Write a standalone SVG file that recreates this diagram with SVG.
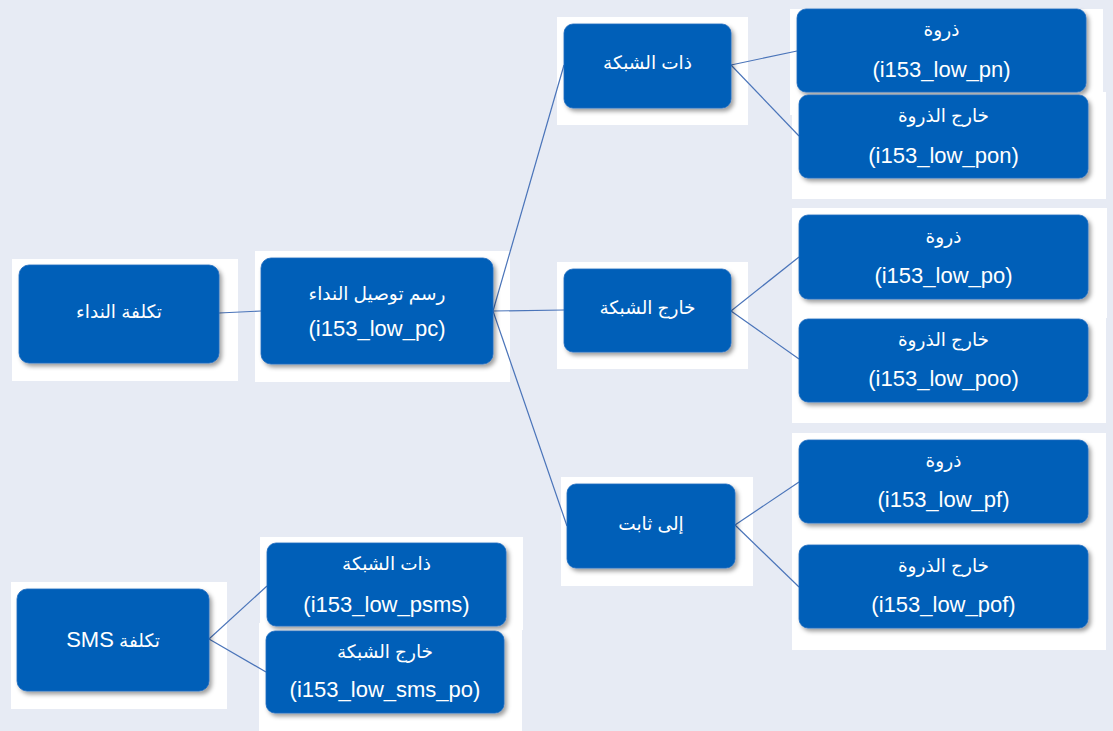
<svg xmlns="http://www.w3.org/2000/svg" width="1113" height="731" viewBox="0 0 1113 731">
<defs>
<filter id="sh" x="-10%" y="-10%" width="125%" height="135%">
<feDropShadow dx="2.5" dy="3" stdDeviation="2" flood-color="#000" flood-opacity="0.38"/>
</filter>
<style>
.bg{fill:#E7EBF4}
.wb{fill:#FFFFFF}
.nd{fill:#005EB8;stroke:#1F6CC0;stroke-width:0.8;filter:url(#sh)}
.ar{font-family:"Liberation Sans","DejaVu Sans",sans-serif;font-size:18.5px;fill:#FFFFFF;text-anchor:middle}
.la{font-family:"Liberation Sans","DejaVu Sans",sans-serif;font-size:22px;fill:#FFFFFF;text-anchor:middle}
.cn line{stroke:#4A74B9;stroke-width:1.2;fill:none}
</style>
</defs>
<rect class="bg" x="0" y="0" width="1113" height="731"/>
<g id="backings">
<rect class="wb" x="12" y="259" width="226" height="122"/>
<rect class="wb" x="255" y="251" width="255" height="131"/>
<rect class="wb" x="557" y="17" width="191" height="108"/>
<rect class="wb" x="790" y="9" width="313" height="106"/>
<rect class="wb" x="792" y="92" width="314" height="107"/>
<rect class="wb" x="557" y="262" width="191" height="107"/>
<rect class="wb" x="792" y="208" width="315" height="110"/>
<rect class="wb" x="792" y="312" width="314" height="111"/>
<rect class="wb" x="561" y="477" width="192" height="109"/>
<rect class="wb" x="792" y="433" width="314" height="108"/>
<rect class="wb" x="792" y="537" width="314" height="113"/>
<rect class="wb" x="11" y="582" width="216" height="127"/>
<rect class="wb" x="260" y="537" width="263" height="93"/>
<rect class="wb" x="259" y="623" width="263" height="108"/>
</g>
<g id="connectors" class="cn">
<line x1="219" y1="313" x2="261" y2="311"/>
<line x1="493" y1="311" x2="564" y2="65"/>
<line x1="493" y1="311" x2="564" y2="310"/>
<line x1="493" y1="311" x2="567" y2="526"/>
<line x1="731" y1="65" x2="797" y2="51"/>
<line x1="731" y1="65" x2="799" y2="136"/>
<line x1="731" y1="311" x2="799" y2="257"/>
<line x1="731" y1="311" x2="799" y2="359"/>
<line x1="735" y1="525" x2="799" y2="482"/>
<line x1="735" y1="525" x2="799" y2="587"/>
<line x1="209" y1="639" x2="267" y2="586"/>
<line x1="209" y1="639" x2="266" y2="672"/>
</g>
<g id="n-call-cost">
<rect class="nd" x="19" y="265" width="200" height="98" rx="10"/>
<text class="ar" x="119" y="318" direction="rtl">تكلفة النداء</text>
</g>
<g id="n-pc">
<rect class="nd" x="261" y="258" width="232" height="106" rx="10"/>
<text class="ar" x="377" y="300" direction="rtl">رسم توصيل النداء</text>
<text class="la" x="377" y="336">(i153_low_pc)</text>
</g>
<g id="n-onnet">
<rect class="nd" x="564" y="24" width="167" height="84" rx="9"/>
<text class="ar" x="647.5" y="69" direction="rtl">ذات الشبكة</text>
</g>
<g id="n-pn">
<rect class="nd" x="797" y="9" width="289" height="83" rx="9"/>
<text class="ar" x="941.5" y="36" direction="rtl">ذروة</text>
<text class="la" x="941.5" y="77">(i153_low_pn)</text>
</g>
<g id="n-pon">
<rect class="nd" x="799" y="95" width="289" height="83" rx="9"/>
<text class="ar" x="943.5" y="122" direction="rtl">خارج الذروة</text>
<text class="la" x="943.5" y="163">(i153_low_pon)</text>
</g>
<g id="n-offnet">
<rect class="nd" x="564" y="269" width="167" height="83" rx="9"/>
<text class="ar" x="647.5" y="314" direction="rtl">خارج الشبكة</text>
</g>
<g id="n-po">
<rect class="nd" x="799" y="215" width="289" height="84" rx="9"/>
<text class="ar" x="943.5" y="243" direction="rtl">ذروة</text>
<text class="la" x="943.5" y="283">(i153_low_po)</text>
</g>
<g id="n-poo">
<rect class="nd" x="799" y="319" width="289" height="83" rx="9"/>
<text class="ar" x="943.5" y="346" direction="rtl">خارج الذروة</text>
<text class="la" x="943.5" y="386">(i153_low_poo)</text>
</g>
<g id="n-fixed">
<rect class="nd" x="567" y="484" width="168" height="84" rx="9"/>
<text class="ar" x="651" y="530" direction="rtl">إلى ثابت</text>
</g>
<g id="n-pf">
<rect class="nd" x="799" y="440" width="289" height="83" rx="9"/>
<text class="ar" x="943.5" y="467" direction="rtl">ذروة</text>
<text class="la" x="943.5" y="507">(i153_low_pf)</text>
</g>
<g id="n-pof">
<rect class="nd" x="799" y="545" width="289" height="83" rx="9"/>
<text class="ar" x="943.5" y="572" direction="rtl">خارج الذروة</text>
<text class="la" x="943.5" y="612">(i153_low_pof)</text>
</g>
<g id="n-sms-cost">
<rect class="nd" x="17" y="589" width="192" height="102" rx="10"/>
<text class="ar" x="113" y="647" direction="rtl">تكلفة <tspan font-size="22px">SMS</tspan></text>
</g>
<g id="n-psms">
<rect class="nd" x="267" y="543" width="239" height="83" rx="9"/>
<text class="ar" x="386.5" y="570" direction="rtl">ذات الشبكة</text>
<text class="la" x="386.5" y="612">(i153_low_psms)</text>
</g>
<g id="n-sms-po">
<rect class="nd" x="266" y="631" width="238" height="82" rx="9"/>
<text class="ar" x="385" y="658" direction="rtl">خارج الشبكة</text>
<text class="la" x="385" y="697">(i153_low_sms_po)</text>
</g>
</svg>
